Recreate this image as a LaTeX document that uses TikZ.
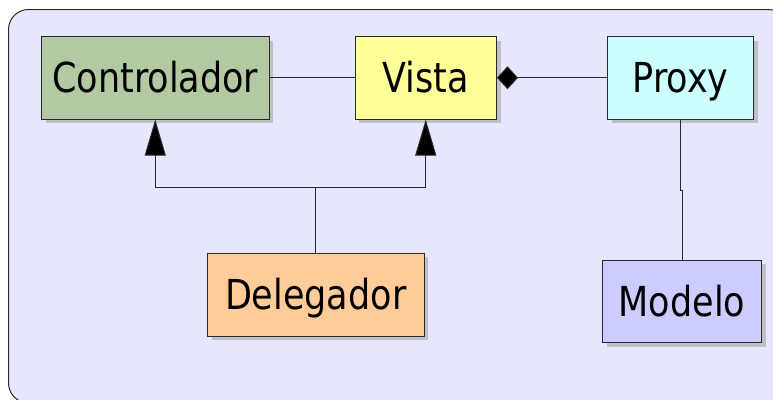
\documentclass[tikz,border=0pt]{standalone}
\usepackage{fontspec}
\setmainfont{DejaVu Sans}
\usetikzlibrary{arrows.meta,shadows}
\definecolor{bgc}{HTML}{E6E6FF}
\definecolor{ctrlc}{HTML}{B3C9A1}
\definecolor{vistac}{HTML}{FFFF99}
\definecolor{proxyc}{HTML}{CCFFFF}
\definecolor{delegc}{HTML}{FFCC99}
\definecolor{modeloc}{HTML}{CCCCFF}
\definecolor{linec}{HTML}{2A2A2A}
\definecolor{shadc}{HTML}{BFBFC4}
\tikzset{
  box/.style={draw=linec, line width=1pt, inner sep=0pt, anchor=center,
    font=\fontsize{35}{40}\selectfont, text height=37pt, text depth=7pt,
    drop shadow={shadow xshift=4pt, shadow yshift=-4pt, fill=shadc, opacity=1}},
  conn/.style={draw=linec, line width=1pt},
  inh/.style={-{Triangle[width=21pt,length=36pt,fill=black]}},
}
\newcommand{\tallt}[1]{\scalebox{1}[1.18]{#1}}
\begin{document}
\begin{tikzpicture}[x=1pt,y=-1pt]
\useasboundingbox (0,0) rectangle (773,399);
\begin{scope}
\clip (0,0) rectangle (773,399);
\draw[linec, line width=1pt, fill=bgc, rounded corners=20pt] (8.5,9.5) rectangle (788,403);
\end{scope}
\node[box, fill=ctrlc, minimum width=227.5pt, minimum height=82.5pt] (ctrl) at (155.25,77.75) {\tallt{Controlador}};
\node[box, fill=vistac, minimum width=141.5pt, minimum height=82.5pt] (vista) at (425.75,77.75) {\tallt{Vista}};
\node[box, fill=proxyc, minimum width=146pt, minimum height=82.5pt] (proxy) at (680.5,77.75) {\tallt{Proxy}};
\node[box, fill=delegc, minimum width=216.5pt, minimum height=83pt] (deleg) at (315.75,294.5) {\tallt{Delegador}};
\node[box, fill=modeloc, minimum width=159pt, minimum height=82.5pt] (modelo) at (682,301.25) {\tallt{Modelo}};
\draw[conn] (ctrl.east) -- (vista.west);
\draw[conn, {Diamond[width=23pt,length=21pt,fill=black]}-] (vista.east) -- (proxy.west);
\draw[conn, inh] (deleg.north) -- ++(0,-65) -| (ctrl.south);
\draw[conn, inh] (deleg.north) -- ++(0,-65) -| (vista.south);
\draw[conn] (proxy.south) -- ++(0,71) -| (modelo.north);
\end{tikzpicture}
\end{document}
